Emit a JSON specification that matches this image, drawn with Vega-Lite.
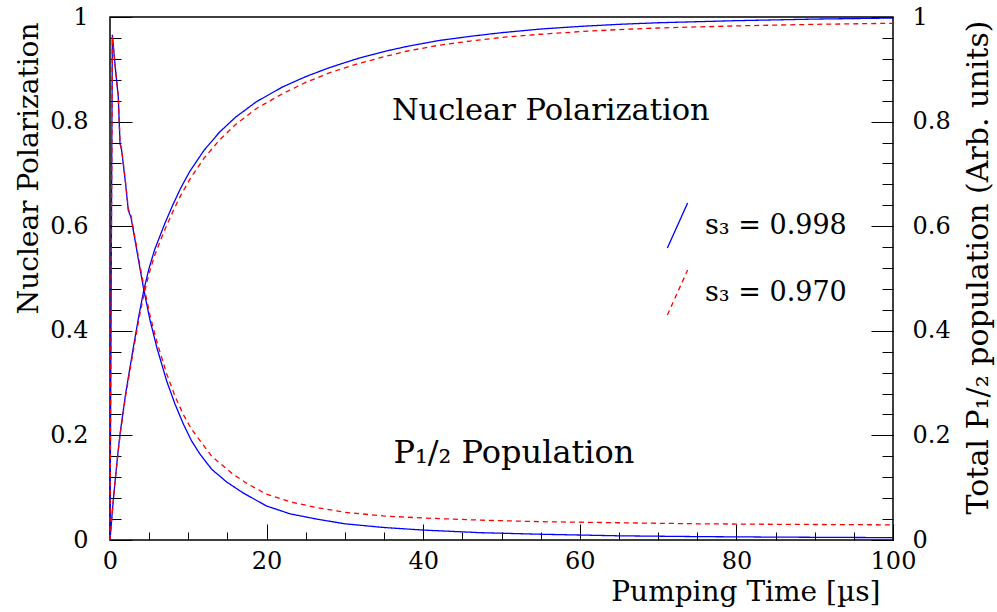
{
  "$schema": "https://vega.github.io/schema/vega-lite/v6.json",
  "width": 783,
  "height": 523,
  "autosize": {"type": "none"},
  "padding": {"left": 110, "top": 17, "right": 104, "bottom": 72},
  "background": "white",
  "config": {
    "view": {"stroke": "black", "strokeWidth": 1.5},
    "axis": {
      "domain": false, "grid": false, "tickColor": "black", "tickWidth": 1,
      "labelColor": "black", "titleColor": "black",
      "labelFont": "DejaVu Serif", "titleFont": "DejaVu Serif",
      "labelFontSize": 24, "titleFontSize": 28, "titleFontWeight": "normal",
      "labelFlush": false, "labelOverlap": false
    }
  },
  "datasets": {
    "polarization": [
      {"t":0,"v":0,"s3":"s₃ = 0.998"},{"t":0.3,"v":0.055,"s3":"s₃ = 0.998"},{"t":0.6,"v":0.105,"s3":"s₃ = 0.998"},{"t":1,"v":0.165,"s3":"s₃ = 0.998"},{"t":1.3,"v":0.205,"s3":"s₃ = 0.998"},{"t":2,"v":0.28,"s3":"s₃ = 0.998"},{"t":3,"v":0.37,"s3":"s₃ = 0.998"},{"t":3.7,"v":0.43,"s3":"s₃ = 0.998"},{"t":4.35,"v":0.48,"s3":"s₃ = 0.998"},{"t":5,"v":0.52,"s3":"s₃ = 0.998"},{"t":5.7,"v":0.555,"s3":"s₃ = 0.998"},{"t":6.4,"v":0.582,"s3":"s₃ = 0.998"},{"t":7,"v":0.605,"s3":"s₃ = 0.998"},{"t":8,"v":0.64,"s3":"s₃ = 0.998"},{"t":9,"v":0.672,"s3":"s₃ = 0.998"},{"t":10.2,"v":0.705,"s3":"s₃ = 0.998"},{"t":12,"v":0.745,"s3":"s₃ = 0.998"},{"t":14,"v":0.78,"s3":"s₃ = 0.998"},{"t":16,"v":0.808,"s3":"s₃ = 0.998"},{"t":18.7,"v":0.838,"s3":"s₃ = 0.998"},{"t":22,"v":0.866,"s3":"s₃ = 0.998"},{"t":25,"v":0.886,"s3":"s₃ = 0.998"},{"t":28,"v":0.903,"s3":"s₃ = 0.998"},{"t":31.5,"v":0.92,"s3":"s₃ = 0.998"},{"t":35,"v":0.934,"s3":"s₃ = 0.998"},{"t":38,"v":0.944,"s3":"s₃ = 0.998"},{"t":42,"v":0.955,"s3":"s₃ = 0.998"},{"t":46,"v":0.963,"s3":"s₃ = 0.998"},{"t":50,"v":0.97,"s3":"s₃ = 0.998"},{"t":55,"v":0.977,"s3":"s₃ = 0.998"},{"t":60,"v":0.982,"s3":"s₃ = 0.998"},{"t":65,"v":0.986,"s3":"s₃ = 0.998"},{"t":70,"v":0.989,"s3":"s₃ = 0.998"},{"t":80,"v":0.993,"s3":"s₃ = 0.998"},{"t":90,"v":0.996,"s3":"s₃ = 0.998"},{"t":100,"v":0.998,"s3":"s₃ = 0.998"},
      {"t":0,"v":0,"s3":"s₃ = 0.970"},{"t":0.3,"v":0.055,"s3":"s₃ = 0.970"},{"t":0.6,"v":0.104,"s3":"s₃ = 0.970"},{"t":1,"v":0.163,"s3":"s₃ = 0.970"},{"t":1.3,"v":0.202,"s3":"s₃ = 0.970"},{"t":2,"v":0.276,"s3":"s₃ = 0.970"},{"t":3,"v":0.364,"s3":"s₃ = 0.970"},{"t":3.7,"v":0.423,"s3":"s₃ = 0.970"},{"t":4.35,"v":0.471,"s3":"s₃ = 0.970"},{"t":5,"v":0.51,"s3":"s₃ = 0.970"},{"t":5.7,"v":0.544,"s3":"s₃ = 0.970"},{"t":6.4,"v":0.571,"s3":"s₃ = 0.970"},{"t":7,"v":0.593,"s3":"s₃ = 0.970"},{"t":8,"v":0.627,"s3":"s₃ = 0.970"},{"t":9,"v":0.658,"s3":"s₃ = 0.970"},{"t":10.2,"v":0.69,"s3":"s₃ = 0.970"},{"t":12,"v":0.73,"s3":"s₃ = 0.970"},{"t":14,"v":0.765,"s3":"s₃ = 0.970"},{"t":16,"v":0.794,"s3":"s₃ = 0.970"},{"t":18.7,"v":0.825,"s3":"s₃ = 0.970"},{"t":22,"v":0.853,"s3":"s₃ = 0.970"},{"t":25,"v":0.875,"s3":"s₃ = 0.970"},{"t":28,"v":0.893,"s3":"s₃ = 0.970"},{"t":31.5,"v":0.91,"s3":"s₃ = 0.970"},{"t":35,"v":0.924,"s3":"s₃ = 0.970"},{"t":38,"v":0.935,"s3":"s₃ = 0.970"},{"t":42,"v":0.946,"s3":"s₃ = 0.970"},{"t":46,"v":0.954,"s3":"s₃ = 0.970"},{"t":50,"v":0.961,"s3":"s₃ = 0.970"},{"t":55,"v":0.967,"s3":"s₃ = 0.970"},{"t":60,"v":0.972,"s3":"s₃ = 0.970"},{"t":65,"v":0.976,"s3":"s₃ = 0.970"},{"t":70,"v":0.979,"s3":"s₃ = 0.970"},{"t":80,"v":0.983,"s3":"s₃ = 0.970"},{"t":90,"v":0.986,"s3":"s₃ = 0.970"},{"t":100,"v":0.988,"s3":"s₃ = 0.970"}
    ],
    "population": [
      {"t":0,"v":0,"s3":"s₃ = 0.998"},{"t":0.3,"v":0.966,"s3":"s₃ = 0.998"},{"t":0.7,"v":0.9,"s3":"s₃ = 0.998"},{"t":1.06,"v":0.847,"s3":"s₃ = 0.998"},{"t":1.28,"v":0.758,"s3":"s₃ = 0.998"},{"t":1.49,"v":0.745,"s3":"s₃ = 0.998"},{"t":2,"v":0.68,"s3":"s₃ = 0.998"},{"t":2.34,"v":0.63,"s3":"s₃ = 0.998"},{"t":2.68,"v":0.617,"s3":"s₃ = 0.998"},{"t":3.2,"v":0.573,"s3":"s₃ = 0.998"},{"t":3.7,"v":0.53,"s3":"s₃ = 0.998"},{"t":4.3,"v":0.48,"s3":"s₃ = 0.998"},{"t":5.1,"v":0.421,"s3":"s₃ = 0.998"},{"t":6,"v":0.367,"s3":"s₃ = 0.998"},{"t":7.24,"v":0.304,"s3":"s₃ = 0.998"},{"t":8.3,"v":0.26,"s3":"s₃ = 0.998"},{"t":9.36,"v":0.222,"s3":"s₃ = 0.998"},{"t":10.4,"v":0.19,"s3":"s₃ = 0.998"},{"t":11.5,"v":0.164,"s3":"s₃ = 0.998"},{"t":13,"v":0.135,"s3":"s₃ = 0.998"},{"t":14.9,"v":0.111,"s3":"s₃ = 0.998"},{"t":17,"v":0.09,"s3":"s₃ = 0.998"},{"t":20,"v":0.065,"s3":"s₃ = 0.998"},{"t":23,"v":0.05,"s3":"s₃ = 0.998"},{"t":26.4,"v":0.04,"s3":"s₃ = 0.998"},{"t":30,"v":0.031,"s3":"s₃ = 0.998"},{"t":34.9,"v":0.024,"s3":"s₃ = 0.998"},{"t":40,"v":0.019,"s3":"s₃ = 0.998"},{"t":47.3,"v":0.014,"s3":"s₃ = 0.998"},{"t":55,"v":0.011,"s3":"s₃ = 0.998"},{"t":65,"v":0.008,"s3":"s₃ = 0.998"},{"t":75,"v":0.0065,"s3":"s₃ = 0.998"},{"t":85,"v":0.0055,"s3":"s₃ = 0.998"},{"t":100,"v":0.0045,"s3":"s₃ = 0.998"},
      {"t":0,"v":0,"s3":"s₃ = 0.970"},{"t":0.3,"v":0.963,"s3":"s₃ = 0.970"},{"t":0.7,"v":0.9,"s3":"s₃ = 0.970"},{"t":1.06,"v":0.847,"s3":"s₃ = 0.970"},{"t":1.28,"v":0.76,"s3":"s₃ = 0.970"},{"t":1.49,"v":0.747,"s3":"s₃ = 0.970"},{"t":2,"v":0.682,"s3":"s₃ = 0.970"},{"t":2.34,"v":0.633,"s3":"s₃ = 0.970"},{"t":2.68,"v":0.62,"s3":"s₃ = 0.970"},{"t":3.2,"v":0.577,"s3":"s₃ = 0.970"},{"t":3.7,"v":0.535,"s3":"s₃ = 0.970"},{"t":4.3,"v":0.487,"s3":"s₃ = 0.970"},{"t":5.1,"v":0.43,"s3":"s₃ = 0.970"},{"t":6,"v":0.378,"s3":"s₃ = 0.970"},{"t":7.24,"v":0.318,"s3":"s₃ = 0.970"},{"t":8.3,"v":0.275,"s3":"s₃ = 0.970"},{"t":9.36,"v":0.24,"s3":"s₃ = 0.970"},{"t":10.4,"v":0.212,"s3":"s₃ = 0.970"},{"t":11.5,"v":0.19,"s3":"s₃ = 0.970"},{"t":13,"v":0.16,"s3":"s₃ = 0.970"},{"t":15.7,"v":0.126,"s3":"s₃ = 0.970"},{"t":17.5,"v":0.108,"s3":"s₃ = 0.970"},{"t":20,"v":0.0875,"s3":"s₃ = 0.970"},{"t":23,"v":0.073,"s3":"s₃ = 0.970"},{"t":26.4,"v":0.062,"s3":"s₃ = 0.970"},{"t":30,"v":0.053,"s3":"s₃ = 0.970"},{"t":34.9,"v":0.046,"s3":"s₃ = 0.970"},{"t":40,"v":0.042,"s3":"s₃ = 0.970"},{"t":47.3,"v":0.038,"s3":"s₃ = 0.970"},{"t":55,"v":0.035,"s3":"s₃ = 0.970"},{"t":65,"v":0.033,"s3":"s₃ = 0.970"},{"t":75,"v":0.031,"s3":"s₃ = 0.970"},{"t":85,"v":0.03,"s3":"s₃ = 0.970"},{"t":100,"v":0.029,"s3":"s₃ = 0.970"}
    ]
  },
  "layer": [
    {
      "data": {"name": "polarization"},
      "mark": {"type": "line", "strokeWidth": 1.3},
      "encoding": {
        "x": {"field": "t", "type": "quantitative", "scale": {"domain": [0, 100], "nice": false, "zero": false},
          "axis": {"orient": "bottom", "values": [0, 20, 40, 60, 80, 100], "tickSize": -16, "labelPadding": 25, "format": "d",
            "title": "Pumping Time [µs]", "titleX": 770, "titleY": 60, "titleAlign": "right", "titleBaseline": "alphabetic", "titleAngle": 0}},
        "y": {"field": "v", "type": "quantitative", "scale": {"domain": [0, 1], "nice": false, "zero": false},
          "axis": {"orient": "left", "values": [0, 0.2, 0.4, 0.6, 0.8, 1], "tickSize": -22, "labelPadding": 44, "format": "~g",
            "title": "Nuclear Polarization", "titleX": -73, "titleY": 5, "titleAngle": 270, "titleAlign": "right", "titleBaseline": "alphabetic"}},
        "color": {"field": "s3", "type": "nominal",
          "scale": {"domain": ["s₃ = 0.998", "s₃ = 0.970"], "range": ["#0000ff", "#ff0000"]},
          "legend": {"title": null, "orient": "none", "legendX": 544, "legendY": 185, "symbolType": "M-0.45,1L0.45,-1", "symbolSize": 2025, "symbolStrokeWidth": 1.3, "labelFont": "DejaVu Serif", "labelFontSize": 27, "labelOffset": 4, "rowPadding": 16, "padding": 0, "labelLimit": 0, "labelColor": "black"}},
        "strokeDash": {"field": "s3", "type": "nominal",
          "scale": {"domain": ["s₃ = 0.998", "s₃ = 0.970"], "range": [[1, 0], [5, 4]]},
          "legend": {"title": null, "orient": "none", "legendX": 544, "legendY": 185, "symbolType": "M-0.45,1L0.45,-1", "symbolSize": 2025, "symbolStrokeWidth": 1.3, "labelFont": "DejaVu Serif", "labelFontSize": 27, "labelOffset": 4, "rowPadding": 16, "padding": 0, "labelLimit": 0, "labelColor": "black"}}
      }
    },
    {
      "data": {"name": "population"},
      "mark": {"type": "line", "strokeWidth": 1.3},
      "encoding": {
        "x": {"field": "t", "type": "quantitative",
          "axis": {"orient": "bottom", "values": [5, 10, 15, 25, 30, 35, 45, 50, 55, 65, 70, 75, 85, 90, 95], "tickSize": -8, "labels": false, "title": null}},
        "y": {"field": "v", "type": "quantitative",
          "axis": {"orient": "right", "values": [0, 0.2, 0.4, 0.6, 0.8, 1], "tickSize": -22, "labelPadding": 41, "format": "~g",
            "title": "Total P₁/₂ population (Arb. units)", "titleFontSize": 30, "titleX": 94, "titleY": 3, "titleAngle": 270, "titleAlign": "right", "titleBaseline": "alphabetic"}},
        "color": {"field": "s3", "type": "nominal",
          "scale": {"domain": ["s₃ = 0.998", "s₃ = 0.970"], "range": ["#0000ff", "#ff0000"]},
          "legend": {"title": null, "orient": "none", "legendX": 544, "legendY": 185, "symbolType": "M-0.45,1L0.45,-1", "symbolSize": 2025, "symbolStrokeWidth": 1.3, "labelFont": "DejaVu Serif", "labelFontSize": 27, "labelOffset": 4, "rowPadding": 16, "padding": 0, "labelLimit": 0, "labelColor": "black"}},
        "strokeDash": {"field": "s3", "type": "nominal",
          "scale": {"domain": ["s₃ = 0.998", "s₃ = 0.970"], "range": [[1, 0], [5, 4]]},
          "legend": {"title": null, "orient": "none", "legendX": 544, "legendY": 185, "symbolType": "M-0.45,1L0.45,-1", "symbolSize": 2025, "symbolStrokeWidth": 1.3, "labelFont": "DejaVu Serif", "labelFontSize": 27, "labelOffset": 4, "rowPadding": 16, "padding": 0, "labelLimit": 0, "labelColor": "black"}}
      }
    },
    {
      "data": {"values": [{"t": 36.0, "v": 0.803, "label": "Nuclear Polarization"}]},
      "mark": {"type": "text", "align": "left", "baseline": "alphabetic", "font": "DejaVu Serif", "fontSize": 30.5, "color": "black"},
      "encoding": {
        "x": {"field": "t", "type": "quantitative", "axis": null},
        "y": {"field": "v", "type": "quantitative",
          "axis": {"orient": "left", "values": [0,0.04,0.08,0.12,0.16,0.2,0.24,0.28,0.32,0.36,0.4,0.44,0.48,0.52,0.56,0.6,0.64,0.68,0.72,0.76,0.8,0.84,0.88,0.92,0.96,1], "tickSize": -11, "labels": false, "title": null}},
        "text": {"field": "label"}
      }
    },
    {
      "data": {"values": [{"t": 36.2, "v": 0.147, "label": "P₁/₂ Population"}]},
      "mark": {"type": "text", "align": "left", "baseline": "alphabetic", "font": "DejaVu Serif", "fontSize": 32, "color": "black"},
      "encoding": {
        "x": {"field": "t", "type": "quantitative", "axis": null},
        "y": {"field": "v", "type": "quantitative",
          "axis": {"orient": "right", "values": [0,0.04,0.08,0.12,0.16,0.2,0.24,0.28,0.32,0.36,0.4,0.44,0.48,0.52,0.56,0.6,0.64,0.68,0.72,0.76,0.8,0.84,0.88,0.92,0.96,1], "tickSize": -11, "labels": false, "title": null}},
        "text": {"field": "label"}
      }
    }
  ],
  "resolve": {"axis": {"x": "independent", "y": "independent"}}
}
